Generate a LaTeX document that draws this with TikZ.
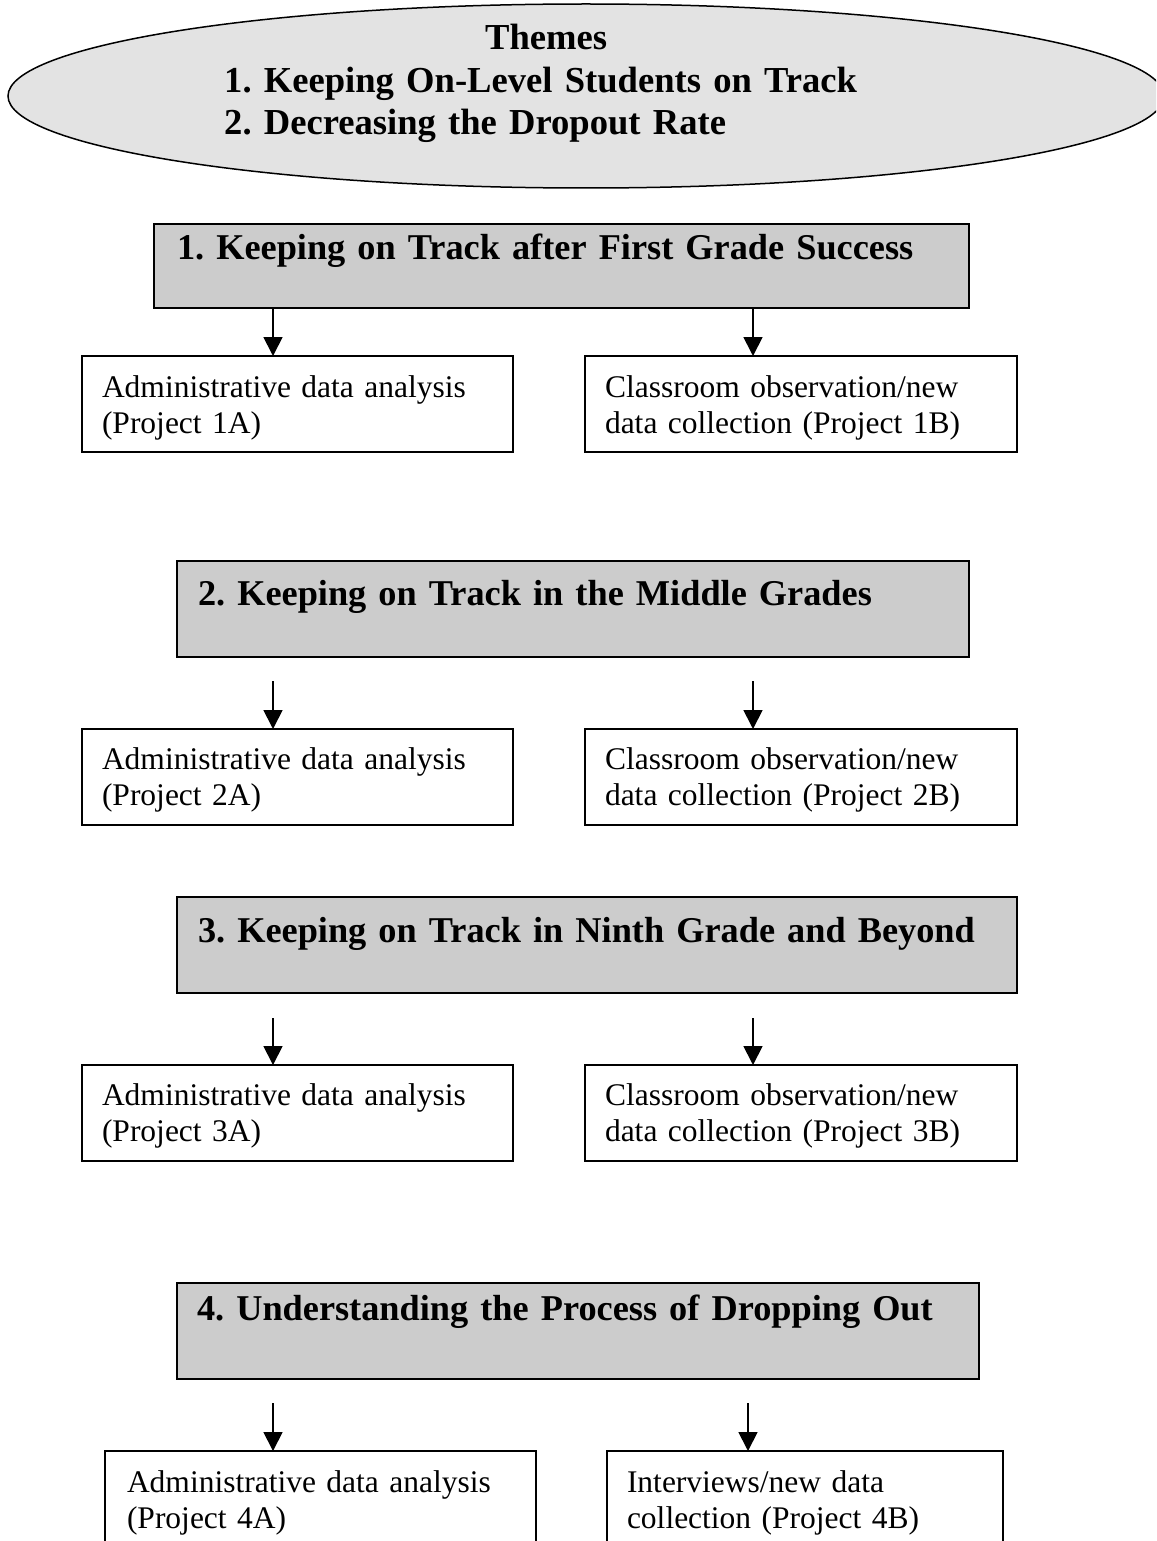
\documentclass[tikz,border=0pt]{standalone}
\usepackage{fontspec}
\setmainfont{Liberation Serif}
\usetikzlibrary{arrows.meta,shapes.geometric}
\definecolor{ellfill}{HTML}{E3E3E3}
\definecolor{hdrfill}{HTML}{CCCCCC}
\begin{document}
\frenchspacing
\begin{tikzpicture}[x=1pt,y=-1pt,
  hdr/.style={draw, line width=1.8pt, fill=hdrfill, anchor=north west, outer sep=0pt,
    inner ysep=0pt, align=left, font=\fontsize{36.3}{42}\selectfont\bfseries\frenchspacing},
  sub/.style={draw, line width=1.6pt, fill=white, anchor=north west, outer sep=0pt,
    inner ysep=0pt, align=left, font=\fontsize{31.5}{36}\selectfont\frenchspacing},
  arr/.style={line width=1.8pt, -{Triangle[width=19pt,length=19pt]}}]
\useasboundingbox (0,0) rectangle (1156,1541);
\clip (0,0) rectangle (1156,1541);

% themes ellipse
\node[draw, ellipse, line width=1.5pt, fill=ellfill, minimum width=1156pt,
  minimum height=184pt, inner sep=0pt] (themes) at (586,96) {};
\node[anchor=base west, inner sep=0pt, align=left, text width=660pt,
  font=\fontsize{36.6}{42.5}\selectfont\bfseries\frenchspacing] (themetext) at (224,50)
  {\makebox[644pt]{Themes}\\1. Keeping On-Level Students on Track\\2. Decreasing the Dropout Rate};

% headers
\node[hdr, inner xsep=23pt, text width=769pt, text height=35pt, text depth=49pt] (h1) at (154,224)
  {1. Keeping on Track after First Grade Success};
\node[hdr, inner xsep=21pt, text width=750pt, text height=44pt, text depth=52pt] (h2) at (177,561)
  {2. Keeping on Track in the Middle Grades};
\node[hdr, inner xsep=21pt, text width=798pt, text height=45pt, text depth=51pt] (h3) at (177,897)
  {\mbox{3. Keeping on Track in Ninth Grade and Beyond}};
\node[hdr, inner xsep=20pt, text width=762pt, text height=37pt, text depth=59pt] (h4) at (177,1283)
  {4. Understanding the Process of Dropping Out};

% project boxes
\node[sub, inner xsep=20pt, text width=391pt, text height=41pt, text depth=55pt] (a1) at (82,356)
  {Administrative data analysis\\(Project 1A)};
\node[sub, inner xsep=20pt, text width=392pt, text height=41pt, text depth=55pt] (b1) at (585,356)
  {Classroom observation/new\\data collection (Project 1B)};
\node[sub, inner xsep=20pt, text width=391pt, text height=40pt, text depth=56pt] (a2) at (82,729)
  {Administrative data analysis\\(Project 2A)};
\node[sub, inner xsep=20pt, text width=392pt, text height=40pt, text depth=56pt] (b2) at (585,729)
  {Classroom observation/new\\data collection (Project 2B)};
\node[sub, inner xsep=20pt, text width=391pt, text height=40pt, text depth=56pt] (a3) at (82,1065)
  {Administrative data analysis\\(Project 3A)};
\node[sub, inner xsep=20pt, text width=392pt, text height=40pt, text depth=56pt] (b3) at (585,1065)
  {Classroom observation/new\\data collection (Project 3B)};
\node[sub, inner xsep=22pt, text width=387pt, text height=41pt, text depth=55pt] (a4) at (105,1451)
  {Administrative data analysis\\(Project 4A)};
\node[sub, inner xsep=20pt, text width=356pt, text height=41pt, text depth=55pt] (b4) at (607,1451)
  {Interviews/new data\\collection (Project 4B)};

% arrow end points on the boxes
\coordinate (ea1) at ([xshift=191pt]a1.north west);
\coordinate (eb1) at ([xshift=168pt]b1.north west);
\coordinate (ea2) at ([xshift=191pt]a2.north west);
\coordinate (eb2) at ([xshift=168pt]b2.north west);
\coordinate (ea3) at ([xshift=191pt]a3.north west);
\coordinate (eb3) at ([xshift=168pt]b3.north west);
\coordinate (ea4) at ([xshift=168pt]a4.north west);
\coordinate (eb4) at ([xshift=141pt]b4.north west);

\draw[arr] (ea1 |- h1.south) -- (ea1);
\draw[arr] (eb1 |- h1.south) -- (eb1);
\draw[arr] ([yshift=48pt]ea2) -- (ea2);
\draw[arr] ([yshift=48pt]eb2) -- (eb2);
\draw[arr] ([yshift=47pt]ea3) -- (ea3);
\draw[arr] ([yshift=47pt]eb3) -- (eb3);
\draw[arr] ([yshift=48pt]ea4) -- (ea4);
\draw[arr] ([yshift=48pt]eb4) -- (eb4);
\end{tikzpicture}
\end{document}
